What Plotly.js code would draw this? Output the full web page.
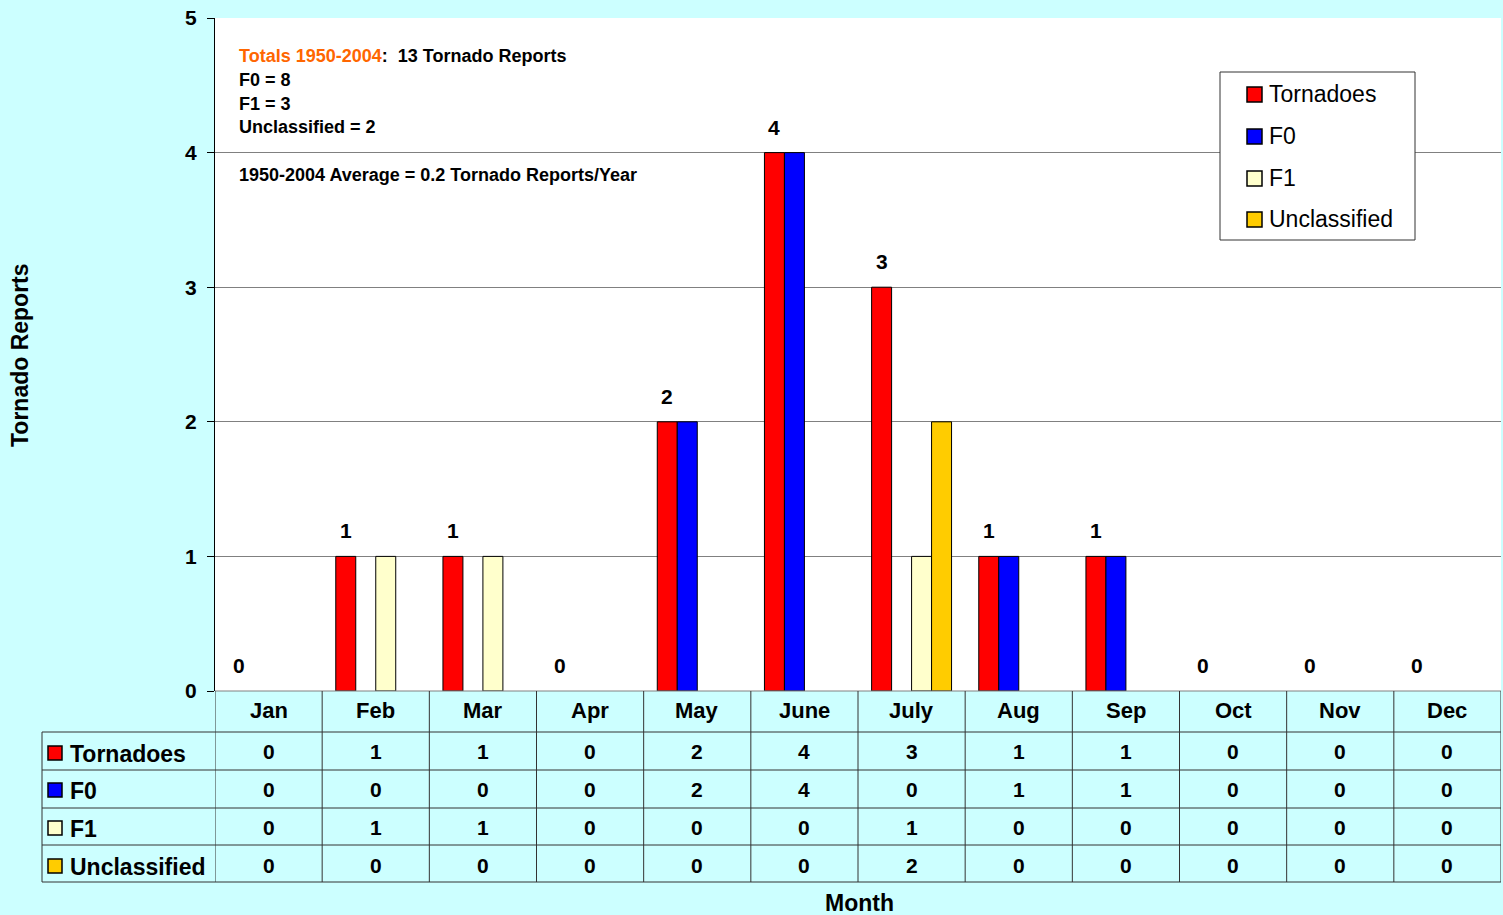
<!DOCTYPE html>
<html>
<head>
<meta charset="utf-8">
<script src="https://cdn.plot.ly/plotly-3.0.1.min.js"></script>
<style>html,body{margin:0;padding:0;background:#CCFFFF;}</style>
</head>
<body>
<div id="chart" style="width:1503px;height:915px;"></div>
<script>
// ---- data ----
const months = ['Jan','Feb','Mar','Apr','May','June','July','Aug','Sep','Oct','Nov','Dec'];
const tornadoes = [0,1,1,0,2,4,3,1,1,0,0,0];
const f0 = [0,0,0,0,2,4,0,1,1,0,0,0];
const f1 = [0,1,1,0,0,0,1,0,0,0,0,0];
const unclassified = [0,0,0,0,0,0,2,0,0,0,0,0];
const seriesNames = ['Tornadoes','F0','F1','Unclassified'];
const seriesColors = ['#FF0000','#0000FF','#FFFFCC','#FFCC00'];
const yTicks = [0,1,2,3,4,5];
const noteLines = ['F0 = 8','F1 = 3','Unclassified = 2'];

const series = [tornadoes, f0, f1, unclassified];
const idx = months.map((m,i)=>i);
const FONT = 'Liberation Sans, Arial, sans-serif';

// geometry helpers (pixels -> paper)
const L=215, R=1501, T=18, B=691;
const px = p => (p - L)/(R - L);
const py = p => (B - p)/(B - T);

const traces = series.map((vals,s)=>({
  type:'bar', x:idx, y:vals, name:seriesNames[s],
  marker:{color:seriesColors[s], line:{color:'#000', width:vals.map(v=>v>0?1:0)}},
  hoverinfo:'skip', showlegend:false
}));

const shapes = [];
const annotations = [];
const lineC = '#333333';
// table horizontal lines
const rowEdges = [732,770,808,845,882];
rowEdges.forEach(r=>{
  shapes.push({type:'line', xref:'paper', yref:'paper', x0:px(42), x1:1, y0:py(r), y1:py(r), line:{color:lineC,width:1}});
});
shapes.push({type:'line', xref:'paper', yref:'paper', x0:0, x1:1, y0:0, y1:0, line:{color:'#808080',width:1}});
for(let k=0;k<=12;k++){
  shapes.push({type:'line', xref:'x', yref:'paper', x0:k-0.5, x1:k-0.5, y0:py(691), y1:py(882), line:{color:lineC,width:1}});
}
shapes.push({type:'line', xref:'paper', yref:'paper', x0:px(42), x1:px(42), y0:py(732), y1:py(882), line:{color:lineC,width:1}});

months.forEach((m,i)=>{
  annotations.push({xref:'x', yref:'paper', x:i, y:py(711), text:'<b>'+m+'</b>', showarrow:false,
    font:{family:FONT, size:22, color:'#000'}, xanchor:'center', yanchor:'middle'});
});
const rowCenters = [752,789,827,865];
series.forEach((vals,s)=>{
  shapes.push({type:'rect', xref:'paper', yref:'paper', x0:px(48), x1:px(62), y0:py(rowCenters[s]+8), y1:py(rowCenters[s]-6),
    fillcolor:seriesColors[s], line:{color:'#000', width:1.5}});
  annotations.push({xref:'paper', yref:'paper', x:px(68), y:py(rowCenters[s]+2), text:'<b>'+seriesNames[s]+'</b>', showarrow:false,
    font:{family:FONT, size:23, color:'#000'}, xanchor:'left', yanchor:'middle'});
  vals.forEach((v,i)=>{
    annotations.push({xref:'x', yref:'paper', x:i, y:py(rowCenters[s]), text:'<b>'+v+'</b>', showarrow:false,
      font:{family:FONT, size:21, color:'#000'}, xanchor:'center', yanchor:'middle'});
  });
});

// manual legend
const legL=1220, legR=1415, legT=72, legB=240;
shapes.push({type:'rect', xref:'paper', yref:'paper', x0:px(legL), x1:px(legR), y0:py(legB), y1:py(legT),
  fillcolor:'#FFFFFF', line:{color:'#333', width:1}});
const legY = [94,136,178,219];
seriesNames.forEach((n,s)=>{
  shapes.push({type:'rect', xref:'paper', yref:'paper', x0:px(1247), x1:px(1262), y0:py(legY[s]+8), y1:py(legY[s]-7),
    fillcolor:seriesColors[s], line:{color:'#000', width:1.5}});
  annotations.push({xref:'paper', yref:'paper', x:px(1267), y:py(legY[s]), text:n, showarrow:false,
    font:{family:FONT, size:23, color:'#000'}, xanchor:'left', yanchor:'middle'});
});

// value labels above Tornadoes bars
const gw = 1 - 0.254, bw = gw/4;
tornadoes.forEach((v,i)=>{
  annotations.push({xref:'x', yref:'y', x:i - gw/2 + bw/2, y:v, text:'<b>'+v+'</b>', showarrow:false,
    font:{family:FONT, size:21, color:'#000'}, xanchor:'center', yanchor:'bottom', yshift:12});
});

// notes
const noteFont = {family:FONT, size:18, color:'#000'};
annotations.push({xref:'paper', yref:'paper', x:px(237), y:py(56), xanchor:'left', yanchor:'middle', showarrow:false,
  text:'<b><span style="color:#FF6600">Totals 1950-2004</span>:  13 Tornado Reports</b>', font:noteFont});
noteLines.forEach((t,k)=>{
  annotations.push({xref:'paper', yref:'paper', x:px(237), y:py(80 + k*23.5), xanchor:'left', yanchor:'middle', showarrow:false,
    text:'<b>'+t+'</b>', font:noteFont});
});
annotations.push({xref:'paper', yref:'paper', x:px(237), y:py(175), xanchor:'left', yanchor:'middle', showarrow:false,
  text:'<b>1950-2004 Average = 0.2 Tornado Reports/Year</b>', font:noteFont});

// axis titles
annotations.push({xref:'paper', yref:'paper', x:px(20), y:py(355), textangle:-90, showarrow:false, xanchor:'center', yanchor:'middle',
  text:'<b>Tornado Reports</b>', font:{family:FONT, size:23, color:'#000'}});
annotations.push({xref:'paper', yref:'paper', x:px(859), y:py(903), showarrow:false, xanchor:'center', yanchor:'middle',
  text:'<b>Month</b>', font:{family:FONT, size:23, color:'#000'}});

const layout = {
  width:1503, height:915,
  margin:{l:L, r:1503-R, t:T, b:915-B, pad:0},
  paper_bgcolor:'#CCFFFF', plot_bgcolor:'#FFFFFF',
  barmode:'group', bargap:0.254, bargroupgap:0,
  showlegend:false,
  xaxis:{range:[-0.5,11.5], showticklabels:false, showgrid:false, zeroline:false, ticks:'', fixedrange:true},
  yaxis:{range:[0,5], tickvals:yTicks, ticktext:yTicks.map(v=>'<b>'+v+'</b>'), showgrid:true, gridcolor:'#808080', gridwidth:1,
    zeroline:false, showline:true, linecolor:'#000', linewidth:1, ticks:'outside', ticklen:7, tickcolor:'#000',
    tickfont:{family:FONT, size:21, color:'#000'}, ticklabelstandoff:6, fixedrange:true},
  shapes:shapes, annotations:annotations
};
Plotly.newPlot('chart', traces, layout, {displayModeBar:false, staticPlot:true});
</script>
</body>
</html>
